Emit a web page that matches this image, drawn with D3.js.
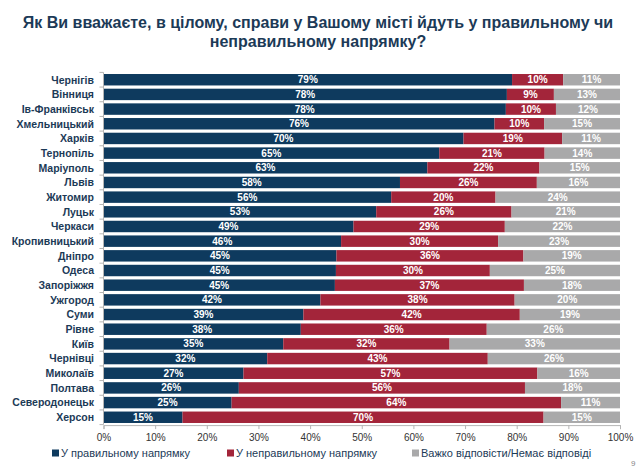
<!DOCTYPE html>
<html>
<head>
<meta charset="utf-8">
<script src="https://cdn.jsdelivr.net/npm/d3@7"></script>
<style>
  body { margin: 0; background: #fff; }
  svg { display: block; font-family: "Liberation Sans", Arial, sans-serif; }
</style>
</head>
<body>
<div id="chart"></div>
<script>
// Cities, top to bottom
const cities = ["Чернігів", "Вінниця", "Ів-Франківськ", "Хмельницький", "Харків", "Тернопіль",
  "Маріуполь", "Львів", "Житомир", "Луцьк", "Черкаси", "Кропивницький", "Дніпро", "Одеса",
  "Запоріжжя", "Ужгород", "Суми", "Рівне", "Київ", "Чернівці", "Миколаїв", "Полтава",
  "Северодонецьк", "Херсон"];

// Segment sizes
const rightDir = [79.1, 78.1, 77.9, 75.7, 69.7, 65.0, 62.7, 57.4, 55.7, 52.8, 48.4, 46.0,
  45.1, 45.0, 44.8, 42.0, 38.7, 38.2, 34.8, 31.7, 27.1, 26.2, 24.8, 15.3];
const wrongDir = [9.9, 9.1, 9.7, 9.6, 19.1, 20.4, 21.7, 26.5, 20.2, 26.2, 29.3, 30.4,
  36.2, 29.8, 36.6, 37.6, 41.9, 36.0, 32.2, 42.7, 56.9, 55.4, 63.8, 69.9];
const hardDir = [11.0, 12.8, 12.4, 14.7, 11.2, 14.6, 15.6, 16.1, 24.1, 21.0, 22.3, 23.6,
  18.7, 25.2, 18.6, 20.4, 19.4, 25.8, 33.0, 25.6, 16.0, 18.4, 11.4, 14.8];

// Printed labels
const rightLbl = [79, 78, 78, 76, 70, 65, 63, 58, 56, 53, 49, 46, 45, 45, 45, 42, 39, 38, 35, 32, 27, 26, 25, 15];
const wrongLbl = [10, 9, 10, 10, 19, 21, 22, 26, 20, 26, 29, 30, 36, 30, 37, 38, 42, 36, 32, 43, 57, 56, 64, 70];
const hardLbl = [11, 13, 12, 15, 11, 14, 15, 16, 24, 21, 22, 23, 19, 25, 18, 20, 19, 26, 33, 26, 16, 18, 11, 15];

const xTicks = [0, 10, 20, 30, 40, 50, 60, 70, 80, 90, 100];
const seriesNames = ["У правильному напрямку", "У неправильному напрямку", "Важко відповісти/Немає відповіді"];
const colors = ["#0e3a5e", "#a3253a", "#a9a9aa"];

const W = 640, H = 468;
const svg = d3.select("#chart").append("svg")
  .attr("width", W).attr("height", H);

// Title
const title = svg.append("text")
  .attr("text-anchor", "middle")
  .attr("fill", "#1c3a57")
  .style("font-size", "16px")
  .style("font-weight", "bold");
title.append("tspan").attr("x", 318).attr("y", 28)
  .text("Як Ви вважаєте, в цілому, справи у Вашому місті йдуть у правильному чи");
title.append("tspan").attr("x", 318).attr("y", 47)
  .text("неправильному напрямку?");

// Scales
const x = d3.scaleLinear().domain([0, 100]).range([103.5, 620]);
const y = d3.scaleBand().domain(cities).range([72.4, 424.6]).paddingInner(0.22).paddingOuter(0.11);

// Stack data
const rows = cities.map((c, i) => ({
  city: c,
  vals: [rightDir[i], wrongDir[i], hardDir[i]],
  lbls: [rightLbl[i], wrongLbl[i], hardLbl[i]]
}));

const segs = [];
rows.forEach(r => {
  let acc = 0;
  r.vals.forEach((v, k) => {
    segs.push({ city: r.city, k: k, x0: acc, x1: Math.min(100, acc + v), lbl: r.lbls[k] });
    acc += v;
  });
});

svg.append("g").selectAll("rect")
  .data(segs)
  .join("rect")
  .attr("x", d => x(d.x0))
  .attr("y", d => y(d.city))
  .attr("width", d => x(d.x1) - x(d.x0))
  .attr("height", y.bandwidth())
  .attr("fill", d => colors[d.k]);

svg.append("g").selectAll("text")
  .data(segs)
  .join("text")
  .attr("x", d => x((d.x0 + d.x1) / 2))
  .attr("y", d => y(d.city) + y.bandwidth() / 2 + 3.5)
  .attr("text-anchor", "middle")
  .attr("fill", "#fff")
  .style("font-size", "10px")
  .style("font-weight", "bold")
  .text(d => d.lbl + "%");

// Y axis: city names and little ticks between bands
svg.append("g").selectAll("text")
  .data(cities)
  .join("text")
  .attr("x", 94)
  .attr("y", d => y(d) + y.bandwidth() / 2 + 3.8)
  .attr("text-anchor", "end")
  .attr("fill", "#1c3a57")
  .style("font-size", "10.5px")
  .style("font-weight", "bold")
  .text(d => d);

const yTop = y.range()[0], yBot = y.range()[1];
svg.append("line")
  .attr("x1", x(0)).attr("x2", x(0))
  .attr("y1", yTop).attr("y2", yBot)
  .attr("stroke", "#b5b5b5");
svg.append("g").selectAll("line")
  .data(d3.range(cities.length + 1))
  .join("line")
  .attr("x1", x(0) - 4).attr("x2", x(0))
  .attr("y1", i => yTop + i * y.step())
  .attr("y2", i => yTop + i * y.step())
  .attr("stroke", "#b5b5b5");

// X axis
const xAxis = svg.append("g")
  .attr("transform", `translate(0,${yBot + 0.5})`)
  .call(d3.axisBottom(x).tickValues(xTicks).tickSize(4).tickFormat(d => d + "%"));
xAxis.select(".domain").attr("stroke", "#b5b5b5");
xAxis.selectAll(".tick line").attr("stroke", "#b5b5b5");
xAxis.selectAll(".tick text")
  .attr("fill", "#333")
  .attr("dy", "0.9em")
  .style("font-size", "10px")
  .style("font-family", "Liberation Sans, Arial, sans-serif");

// Legend
const legX = [52, 227, 412];
const leg = svg.append("g").selectAll("g")
  .data(seriesNames)
  .join("g")
  .attr("transform", (d, i) => `translate(${legX[i]},453)`);
leg.append("rect")
  .attr("x", 0).attr("y", -3.5)
  .attr("width", 7).attr("height", 7)
  .attr("fill", (d, i) => colors[i]);
leg.append("text")
  .attr("x", 9).attr("y", 4)
  .attr("fill", "#1c3a57")
  .style("font-size", "11px")
  .text(d => d);

// Page number
svg.append("text")
  .attr("x", 631).attr("y", 466)
  .attr("fill", "#888")
  .style("font-size", "8px")
  .text("9");
</script>
</body>
</html>
